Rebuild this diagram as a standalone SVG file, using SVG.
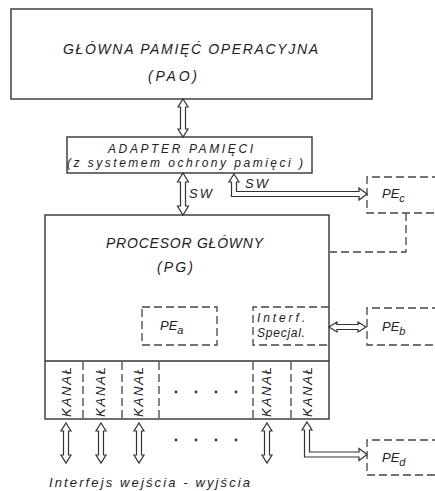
<svg xmlns="http://www.w3.org/2000/svg" width="435" height="491" viewBox="0 0 435 491">
<style>
.box{fill:none;stroke:#333;stroke-width:1.4}
.dash{fill:none;stroke:#444;stroke-width:1.3;stroke-dasharray:8 4}
.arr{fill:#fff;stroke:#333;stroke-width:1.2;stroke-linejoin:miter}
text{font-family:"Liberation Sans",Arial,sans-serif;font-style:italic;fill:#222}
.t14{font-size:14px}
.t12{font-size:12px}
.t13{font-size:13px}
.sub{font-size:11px}
.dot{fill:#333}
</style>
<rect width="435" height="491" fill="#fff"/>
<g id="pao">
<rect class="box" x="11" y="9" width="361" height="90"/>
<text class="t14" x="63" y="54" textLength="255" lengthAdjust="spacing">GŁÓWNA PAMIĘĆ OPERACYJNA</text>
<text class="t14" x="148" y="81" textLength="49" lengthAdjust="spacing">(PAO)</text>
</g>
<g id="adapter">
<rect class="box" x="67" y="137" width="245" height="36"/>
<text class="t12" x="108" y="153" textLength="145" lengthAdjust="spacing">ADAPTER PAMIĘCI</text>
<text class="t12" x="67" y="167" textLength="236" lengthAdjust="spacing">(z systemem ochrony pamięci )</text>
</g>
<g id="pg">
<rect class="box" x="45" y="215" width="284" height="204"/>
<line class="box" x1="45" y1="361" x2="329" y2="361"/>
<text class="t14" x="106" y="248" textLength="157" lengthAdjust="spacing">PROCESOR GŁÓWNY</text>
<text class="t14" x="157" y="272" textLength="36" lengthAdjust="spacing">(PG)</text>
</g>
<g id="pe-a">
<rect class="dash" x="142" y="307" width="75" height="38"/>
<text class="t13" x="160" y="330">PE<tspan class="sub" dy="4">a</tspan></text>
</g>
<g id="interf">
<path class="dash" d="M329,307 H253 V345 H329"/>
<text class="t12" x="257" y="322" textLength="48" lengthAdjust="spacing">Interf.</text>
<text class="t12" x="257" y="337" textLength="48" lengthAdjust="spacing">Specjal.</text>
</g>
<g id="pe-b">
<path class="dash" d="M440,308 H367 V345 H440"/>
<text class="t13" x="382" y="331">PE<tspan class="sub" dy="4">b</tspan></text>
</g>
<g id="pe-c">
<path class="dash" d="M440,177 H367 V213 H440"/>
<text class="t13" x="382" y="198">PE<tspan class="sub" dy="4">c</tspan></text>
</g>
<g id="pe-d">
<path class="dash" d="M440,440 H367 V475 H440"/>
<text class="t13" x="382" y="462">PE<tspan class="sub" dy="4">d</tspan></text>
</g>
<g id="channels">
<line class="dash" x1="83" y1="362" x2="83" y2="419"/>
<line class="dash" x1="122" y1="362" x2="122" y2="419"/>
<line class="dash" x1="159" y1="362" x2="159" y2="419"/>
<line class="dash" x1="253" y1="362" x2="253" y2="419"/>
<line class="dash" x1="291" y1="362" x2="291" y2="419"/>
<text class="t13" transform="translate(71,392) rotate(-90)" text-anchor="middle" textLength="50" lengthAdjust="spacing">KANAŁ</text>
<text class="t13" transform="translate(105,392) rotate(-90)" text-anchor="middle" textLength="50" lengthAdjust="spacing">KANAŁ</text>
<text class="t13" transform="translate(143,392) rotate(-90)" text-anchor="middle" textLength="50" lengthAdjust="spacing">KANAŁ</text>
<text class="t13" transform="translate(271,392) rotate(-90)" text-anchor="middle" textLength="50" lengthAdjust="spacing">KANAŁ</text>
<text class="t13" transform="translate(312,392) rotate(-90)" text-anchor="middle" textLength="50" lengthAdjust="spacing">KANAŁ</text>
<circle class="dot" cx="176" cy="392" r="1.4"/>
<circle class="dot" cx="196" cy="392" r="1.4"/>
<circle class="dot" cx="216" cy="392" r="1.4"/>
<circle class="dot" cx="236" cy="392" r="1.4"/>
</g>
<g id="connectors">
<path class="arr" d="M183,99 L188,107 L185.5,107 L185.5,129 L188,129 L183,137 L178,129 L180.5,129 L180.5,107 L178,107 Z"/>
<path class="arr" d="M183,173 L188.5,182 L185.5,182 L185.5,206 L188.5,206 L183,215 L177.5,206 L180.5,206 L180.5,182 L177.5,182 Z"/>
<text class="t13" x="189" y="198" textLength="23" lengthAdjust="spacing">SW</text>
<path class="arr" d="M234,174 L239,182 L236.5,182 L236.5,191.5 L359,191.5 L359,188 L367,194 L359,200 L359,196.5 L231.5,196.5 L231.5,182 L229,182 Z"/>
<text class="t13" x="245" y="188" textLength="23" lengthAdjust="spacing">SW</text>
<path class="dash" d="M406,213 V252 H330"/>
<path class="arr" d="M329,327 L337,322 L337,324.5 L358,324.5 L358,322 L366,327 L358,332 L358,329.5 L337,329.5 L337,332 Z"/>
<path class="arr" d="M66,423 L71,431 L68.5,431 L68.5,455 L71,455 L66,463 L61,455 L63.5,455 L63.5,431 L61,431 Z"/>
<path class="arr" d="M101,423 L106,431 L103.5,431 L103.5,455 L106,455 L101,463 L96,455 L98.5,455 L98.5,431 L96,431 Z"/>
<path class="arr" d="M139,423 L144,431 L141.5,431 L141.5,455 L144,455 L139,463 L134,455 L136.5,455 L136.5,431 L134,431 Z"/>
<path class="arr" d="M267,423 L272,431 L269.5,431 L269.5,455 L272,455 L267,463 L262,455 L264.5,455 L264.5,431 L262,431 Z"/>
<path class="arr" d="M307,422 L312,430 L309.5,430 L309.5,452 L359,452 L359,448.5 L367,454.5 L359,460.5 L359,457 L304.5,457 L304.5,430 L302,430 Z"/>
<circle class="dot" cx="176" cy="440" r="1.4"/>
<circle class="dot" cx="196" cy="440" r="1.4"/>
<circle class="dot" cx="216" cy="440" r="1.4"/>
<circle class="dot" cx="236" cy="440" r="1.4"/>
</g>
<text class="t13" x="49" y="487" textLength="201" lengthAdjust="spacing">Interfejs wejścia - wyjścia</text>
</svg>
